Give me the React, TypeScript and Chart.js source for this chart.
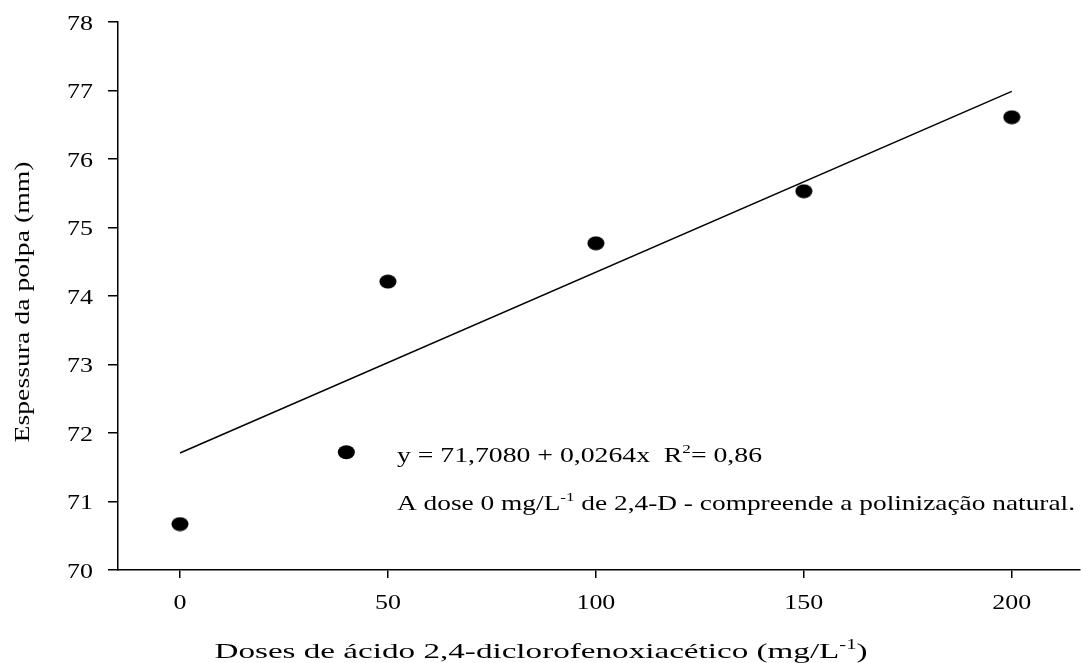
import React, { useEffect, useRef } from "react";
import { Chart, registerables } from "chart.js";

Chart.register(...registerables);

const doses = [0, 50, 100, 150, 200];
const espessura = [70.67, 74.21, 74.77, 75.53, 76.61];
const xTickValues = [0, 50, 100, 150, 200];
const yTickValues = [70, 71, 72, 73, 74, 75, 76, 77, 78];
const yMin = 70;
const yMax = 78;
const xMin = -14.9;
const xMax = 216.4;
const intercept = 71.708;
const slope = 0.0264;
const regX = [0, 200];
const legendMarker = { x: 40, y: 71.72 };

const yTitle = "Espessura da polpa (mm)";
const xTitleParts = [
  { t: "Doses de ácido 2,4-diclorofenoxiacético (mg/L" },
  { t: "-1", sup: true },
  { t: ")" },
];
const eqParts = [
  { t: "y = 71,7080 + 0,0264x  R" },
  { t: "2", sup: true },
  { t: "= 0,86" },
];
const noteParts = [
  { t: "A dose 0 mg/L" },
  { t: "-1", sup: true },
  { t: " de 2,4-D - compreende a polinização natural." },
];

const FONT = "'Liberation Serif', 'Times New Roman', serif";
const STRETCH = 1.18;

type Seg = { t: string; sup?: boolean };

function drawRich(
  ctx: CanvasRenderingContext2D,
  segs: Seg[],
  x: number,
  y: number,
  size: number,
  align: "left" | "center" | "right",
  targetW?: number
) {
  const supSize = size * 0.62;
  let natural = 0;
  for (const s of segs) {
    ctx.font = `${s.sup ? supSize : size}px ${FONT}`;
    natural += ctx.measureText(s.t).width;
  }
  const sx = targetW ? targetW / natural : STRETCH;
  ctx.save();
  ctx.translate(x, y);
  ctx.scale(sx, 1);
  let cx = align === "center" ? -natural / 2 : align === "right" ? -natural : 0;
  ctx.fillStyle = "#000";
  ctx.textBaseline = "alphabetic";
  ctx.textAlign = "left";
  for (const s of segs) {
    ctx.font = `${s.sup ? supSize : size}px ${FONT}`;
    ctx.fillText(s.t, cx, s.sup ? -size * 0.42 : 0);
    cx += ctx.measureText(s.t).width;
  }
  ctx.restore();
}

const textPlugin = {
  id: "customText",
  afterDraw(chart: any) {
    const ctx: CanvasRenderingContext2D = chart.ctx;
    const xs = chart.scales.x;
    const ys = chart.scales.y;
    for (const v of yTickValues) {
      const py = ys.getPixelForValue(v);
      drawRich(ctx, [{ t: String(v) }], 93, py + 7.5, 22, "right");
    }
    for (const v of xTickValues) {
      const px = xs.getPixelForValue(v);
      drawRich(ctx, [{ t: String(v) }], px, 609, 22, "center");
    }
    const mx = xs.getPixelForValue(legendMarker.x);
    const my = ys.getPixelForValue(legendMarker.y);
    ctx.save();
    ctx.fillStyle = "#000";
    ctx.beginPath();
    ctx.ellipse(mx, my, 8.5, 7, 0, 0, Math.PI * 2);
    ctx.fill();
    ctx.restore();
    drawRich(ctx, eqParts, 397, 462, 21, "left", 365);
    drawRich(ctx, noteParts, 397, 510, 21, "left", 678);
    drawRich(ctx, xTitleParts, 541, 658, 22, "center", 653);
    ctx.save();
    ctx.translate(29, 302);
    ctx.rotate(-Math.PI / 2);
    drawRich(ctx, [{ t: yTitle }], 0, 0, 22, "center", 281);
    ctx.restore();
  },
};

function makeEllipse() {
  const c = document.createElement("canvas");
  c.width = 18;
  c.height = 15;
  const g = c.getContext("2d")!;
  g.fillStyle = "#000";
  g.beginPath();
  g.ellipse(9, 7.5, 8.5, 7, 0, 0, Math.PI * 2);
  g.fill();
  return c;
}

export default function App() {
  const ref = useRef<HTMLCanvasElement>(null);
  useEffect(() => {
    if (!ref.current) return;
    const ctx = ref.current.getContext("2d")!;
    const chart = new Chart(ctx, {
      type: "scatter",
      data: {
        datasets: [
          {
            type: "line",
            label: "Regressão",
            data: regX.map((x) => ({ x, y: intercept + slope * x })),
            borderColor: "#000",
            borderWidth: 1.5,
            pointRadius: 0,
            fill: false,
          } as any,
          {
            label: "Espessura",
            data: doses.map((x, i) => ({ x, y: espessura[i] })),
            backgroundColor: "#000",
            borderColor: "#000",
            pointStyle: makeEllipse(),
            pointRadius: 8,
            pointHoverRadius: 8,
          },
        ],
      },
      options: {
        responsive: false,
        animation: false,
        layout: { autoPadding: false, padding: { top: 22, right: 1, left: 0, bottom: 0 } },
        plugins: { legend: { display: false }, tooltip: { enabled: false } },
        scales: {
          x: {
            type: "linear",
            min: xMin,
            max: xMax,
            afterBuildTicks: (axis: any) => {
              axis.ticks = xTickValues.map((v) => ({ value: v }));
            },
            afterFit: (axis: any) => {
              axis.height = 663 - 570;
            },
            grid: {
              drawOnChartArea: false,
              drawTicks: true,
              tickLength: 8,
              color: "#000",
              lineWidth: 1.5,
            },
            border: { display: true, color: "#000", width: 1.5 },
            ticks: { display: false },
          },
          y: {
            type: "linear",
            min: yMin,
            max: yMax,
            afterBuildTicks: (axis: any) => {
              axis.ticks = yTickValues.map((v) => ({ value: v }));
            },
            afterFit: (axis: any) => {
              axis.width = 118;
            },
            grid: {
              drawOnChartArea: false,
              drawTicks: true,
              tickLength: 10,
              color: "#000",
              lineWidth: 1.5,
            },
            border: { display: true, color: "#000", width: 1.5 },
            ticks: { display: false },
          },
        },
      },
      plugins: [textPlugin],
    });
    return () => chart.destroy();
  }, []);
  return (
    <div style={{ position: "absolute", left: 0, top: 0, width: 1081, height: 663, background: "#fff" }}>
      <canvas ref={ref} width={1081} height={663} />
    </div>
  );
}
